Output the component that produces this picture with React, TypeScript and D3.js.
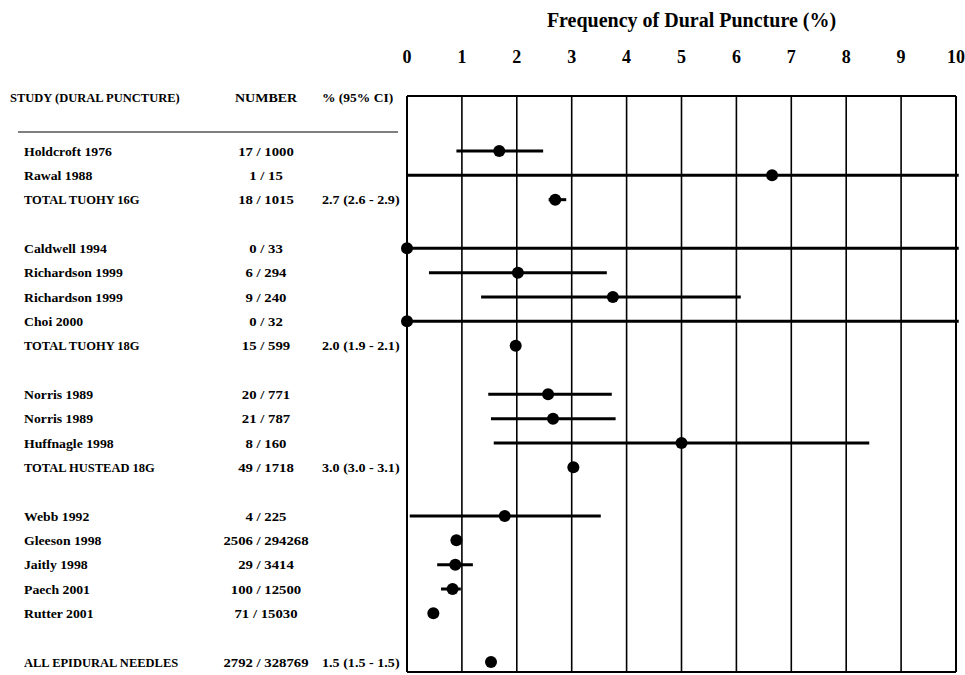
import React from "react";
import * as d3 from "d3";

const studies = [
  "Holdcroft 1976", "Rawal 1988", "TOTAL TUOHY 16G",
  "Caldwell 1994", "Richardson 1999", "Richardson 1999", "Choi 2000", "TOTAL TUOHY 18G",
  "Norris 1989", "Norris 1989", "Huffnagle 1998", "TOTAL HUSTEAD 18G",
  "Webb 1992", "Gleeson 1998", "Jaitly 1998", "Paech 2001", "Rutter 2001",
  "ALL EPIDURAL NEEDLES",
];
const numbers = [
  "17 / 1000", "1 / 15", "18 / 1015",
  "0 / 33", "6 / 294", "9 / 240", "0 / 32", "15 / 599",
  "20 / 771", "21 / 787", "8 / 160", "49 / 1718",
  "4 / 225", "2506 / 294268", "29 / 3414", "100 / 12500", "71 / 15030",
  "2792 / 328769",
];
const ciLabels = [
  "", "", "2.7 (2.6 - 2.9)",
  "", "", "", "", "2.0 (1.9 - 2.1)",
  "", "", "", "3.0 (3.0 - 3.1)",
  "", "", "", "", "",
  "1.5 (1.5 - 1.5)",
];
const rowIndex = [0, 1, 2, 4, 5, 6, 7, 8, 10, 11, 12, 13, 15, 16, 17, 18, 19, 21];
const pointValues = [1.68, 6.65, 2.7, 0, 2.02, 3.75, 0, 1.98, 2.57, 2.66, 5.0, 3.03, 1.78, 0.9, 0.88, 0.83, 0.48, 1.53];
const ciLow = [0.9, 0.0, 2.58, 0.0, 0.4, 1.35, 0.0, null, 1.48, 1.53, 1.58, null, 0.05, null, 0.55, 0.62, null, null];
const ciHigh = [2.48, 10.05, 2.9, 10.05, 3.64, 6.08, 10.05, null, 3.73, 3.8, 8.42, null, 3.53, null, 1.2, 0.98, null, null];
const xTicks = [0, 1, 2, 3, 4, 5, 6, 7, 8, 9, 10];

const W = 965, H = 675;
const font = "'Liberation Serif', 'DejaVu Serif', serif";

export default function App() {
  const x = d3.scaleLinear().domain([0, 10]).range([407, 956]);
  const y = d3.scaleLinear().domain([0, 21]).range([151, 662]);
  const boxTop = 96, boxBottom = 672;
  const fs = 12.5;
  const isCaps = (s: string) => s === s.toUpperCase();
  return (
    <svg width={W} height={H} style={{ position: "absolute", left: 0, top: 0, background: "#fff" }}
      fontFamily={font} fontWeight="bold">
      <text x={(x(0) + x(10)) / 2 + 10} y={27} textAnchor="middle" fontSize={20}>Frequency of Dural Puncture (%)</text>
      {xTicks.map((t) => (
        <text key={"t" + t} x={x(t)} y={63} textAnchor="middle" fontSize={18}>{t}</text>
      ))}
      {xTicks.map((t) => (
        <line key={"g" + t} x1={x(t)} x2={x(t)} y1={boxTop} y2={boxBottom} stroke="#000"
          strokeWidth={t === 0 || t === 10 ? 2 : 1.6} />
      ))}
      <line x1={x(0)} x2={x(10)} y1={boxTop} y2={boxTop} stroke="#000" strokeWidth={2} />
      <line x1={x(0)} x2={x(10)} y1={boxBottom} y2={boxBottom} stroke="#000" strokeWidth={2} />

      <text x={10} y={102} fontSize={fs}>STUDY (DURAL PUNCTURE)</text>
      <text transform="translate(235,102) scale(1.12,1)" fontSize={fs}>NUMBER</text>
      <text transform="translate(322,102) scale(1.08,1)" fontSize={fs}>% (95% CI)</text>
      <line x1={18} x2={398} y1={132} y2={132} stroke="#000" strokeWidth={1.2} />

      {studies.map((s, i) => {
        const yy = y(rowIndex[i]);
        return (
          <g key={"r" + i}>
            <text transform={`translate(24,${yy + 4.5}) scale(${isCaps(s) ? 1 : 1.1},1)`} fontSize={fs}>{s}</text>
            <text transform={`translate(266,${yy + 4.5}) scale(1.18,1)`} fontSize={fs} textAnchor="middle">{numbers[i]}</text>
            {ciLabels[i] && <text transform={`translate(322,${yy + 4.5}) scale(1.13,1)`} fontSize={fs}>{ciLabels[i]}</text>}
            {ciLow[i] !== null && (
              <line x1={x(ciLow[i] as number)} x2={x(ciHigh[i] as number)} y1={yy} y2={yy}
                stroke="#000" strokeWidth={3} />
            )}
            <circle cx={x(pointValues[i])} cy={yy} r={6} fill="#000" />
          </g>
        );
      })}
    </svg>
  );
}
